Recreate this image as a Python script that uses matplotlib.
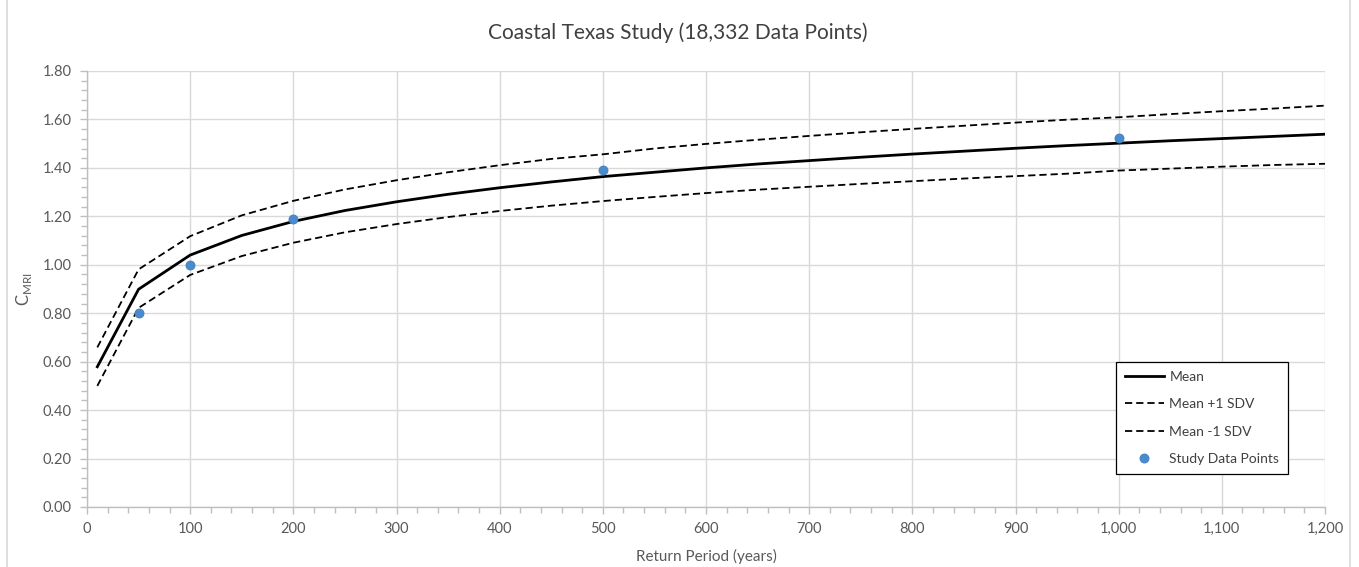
import matplotlib
matplotlib.use("Agg")
import matplotlib.pyplot as plt
from matplotlib.ticker import MultipleLocator, FuncFormatter
from matplotlib.patches import Rectangle

plt.rcParams['font.family'] = ['Lato', 'DejaVu Sans']

# Return periods (years) of the curves
return_periods = [10, 50, 100, 150, 200, 250, 300, 350, 400, 450, 500, 550, 600,
                  650, 700, 750, 800, 850, 900, 950, 1000, 1050, 1100, 1150, 1200]

mean_vals = [0.579, 0.899, 1.040, 1.121, 1.179, 1.224, 1.260, 1.291, 1.318, 1.342,
             1.364, 1.382, 1.400, 1.416, 1.430, 1.444, 1.457, 1.469, 1.481, 1.492,
             1.502, 1.512, 1.521, 1.530, 1.539]

upper_vals = [0.659, 0.981, 1.118, 1.204, 1.264, 1.311, 1.349, 1.382, 1.411, 1.437,
              1.456, 1.480, 1.499, 1.516, 1.532, 1.547, 1.561, 1.574, 1.587, 1.599,
              1.609, 1.622, 1.634, 1.645, 1.657]

lower_vals = [0.500, 0.822, 0.958, 1.036, 1.091, 1.134, 1.168, 1.197, 1.222, 1.244,
              1.263, 1.280, 1.296, 1.310, 1.322, 1.334, 1.345, 1.356, 1.366, 1.376,
              1.389, 1.397, 1.405, 1.412, 1.417]

# Study data points
study_x = [50, 100, 200, 500, 1000]
study_y = [0.80, 1.00, 1.19, 1.39, 1.525]

fig = plt.figure(figsize=(13.59, 5.67), dpi=100)
ax = fig.add_axes([87 / 1359, 60 / 567, 1238 / 1359, 436 / 567])

# light frame around the whole chart
fig.patches.append(Rectangle((7 / 1359, -0.01), 1343 / 1359, 1.02, transform=fig.transFigure,
                             fill=False, edgecolor='#d9d9d9', linewidth=1.2))

dash = (0, (4, 2.2))
ax.plot(return_periods, mean_vals, color='black', linewidth=2.0, label='Mean', zorder=3)
ax.plot(return_periods, upper_vals, color='black', linewidth=1.3, linestyle=dash,
        label='Mean +1 SDV', zorder=3)
ax.plot(return_periods, lower_vals, color='black', linewidth=1.3, linestyle=dash,
        label='Mean -1 SDV', zorder=3)
ax.plot(study_x, study_y, linestyle='none', marker='o', markersize=6.5,
        markerfacecolor='#4a8bcb', markeredgecolor='#3f7fbf', markeredgewidth=0.6,
        label='Study Data Points', zorder=4)

ax.set_xlim(0, 1200)
ax.set_ylim(0, 1.8)
ax.xaxis.set_major_locator(MultipleLocator(100))
ax.xaxis.set_minor_locator(MultipleLocator(20))
ax.yaxis.set_major_locator(MultipleLocator(0.2))
ax.yaxis.set_minor_locator(MultipleLocator(0.04))
ax.xaxis.set_major_formatter(FuncFormatter(lambda v, p: f"{v:,.0f}"))
ax.yaxis.set_major_formatter(FuncFormatter(lambda v, p: f"{v:.2f}"))

ax.grid(True, which='major', color='#d9d9d9', linewidth=1.0)
ax.set_axisbelow(True)
for side in ['top', 'right']:
    ax.spines[side].set_visible(False)
for side in ['left', 'bottom']:
    ax.spines[side].set_color('#bfbfbf')
    ax.spines[side].set_linewidth(1.0)

ax.tick_params(which='major', direction='out', length=5, width=1, color='#bfbfbf',
               labelsize=10.5, labelcolor='#595959', pad=6)
ax.tick_params(which='minor', direction='out', length=4, width=1, color='#bfbfbf')

fig.text(678 / 1359, 1 - 33 / 567, 'Coastal Texas Study (18,332 Data Points)', fontsize=15,
         color='#404040', ha='center', va='center')
ax.set_xlabel('Return Period (years)', fontsize=11, color='#595959', labelpad=9)
ax.set_ylabel(r'C$_{\mathregular{MRI}}$', fontsize=12, color='#595959', labelpad=6)

leg = ax.legend(loc='lower right', bbox_to_anchor=(0.976, 0.06), fontsize=10,
                frameon=True, fancybox=False, edgecolor='black', framealpha=1,
                handlelength=2.8, labelspacing=1.1, borderpad=0.65, handletextpad=0.4)
leg.get_frame().set_linewidth(0.9)
for t in leg.get_texts():
    t.set_color('#404040')

fig.savefig('out.png', dpi=100, facecolor='white')
